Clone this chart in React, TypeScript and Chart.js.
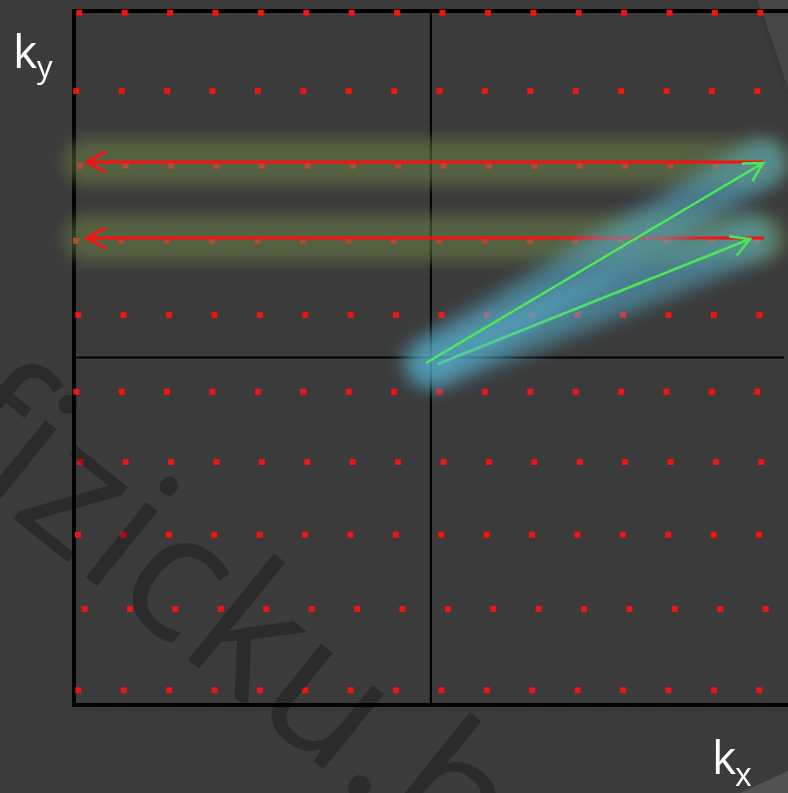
import React, { useEffect, useRef } from 'react';
import { Chart, registerables } from 'chart.js';

Chart.register(...registerables);

// Reciprocal lattice: each row has its own ky and the kx of its first point;
// points in a row are one lattice unit apart.
const rowKy = [4.579, 3.539, 2.547, 1.551, 0.564, -0.454, -1.388, -2.353, -3.34, -4.42];
const rowKxStart = [-7.745, -7.811, -7.723, -7.817, -7.767, -7.811, -7.723, -7.773, -7.627, -7.767];
const columnIndex = [0, 1, 2, 3, 4, 5, 6, 7, 8, 9, 10, 11, 12, 13, 14, 15];

// Arrows: [tail, tip]
const redArrow1 = [{ x: 7.335, y: 2.596 }, { x: -7.576, y: 2.596 }];
const redArrow2 = [{ x: 7.335, y: 1.587 }, { x: -7.576, y: 1.587 }];
const greenArrow1 = [{ x: -0.109, y: -0.073 }, { x: 7.313, y: 2.583 }];
const greenArrow2 = [{ x: 0.153, y: -0.086 }, { x: 7.029, y: 1.574 }];

const xRange = { min: -7.861, max: 7.773 };
const yRange = { min: -4.615, max: 4.602 };

const latticePoints = rowKy.flatMap((ky, i) =>
  columnIndex.map((j) => ({ x: rowKxStart[i] + j, y: ky }))
);

const BG = '#3b3b3b';

const bgPlugin = {
  id: 'bgPlugin',
  beforeDraw(chart: any) {
    const { ctx, width, height } = chart;
    ctx.save();
    ctx.fillStyle = BG;
    ctx.fillRect(0, 0, width, height);
    // faint lighter shapes at the right edge
    ctx.save();
    ctx.filter = 'blur(3px)';
    ctx.beginPath();
    ctx.moveTo(752, -10);
    ctx.quadraticCurveTo(770, 40, 790, 100);
    ctx.lineTo(800, 100);
    ctx.lineTo(800, -10);
    ctx.closePath();
    ctx.fillStyle = 'rgba(0,0,0,0.12)';
    ctx.fill();
    ctx.restore();
    ctx.beginPath();
    ctx.moveTo(757, 0);
    ctx.quadraticCurveTo(773, 40, 788, 90);
    ctx.lineTo(788, 0);
    ctx.closePath();
    ctx.fillStyle = '#464646';
    ctx.fill();
    ctx.beginPath();
    ctx.moveTo(740, 793);
    ctx.lineTo(788, 771);
    ctx.lineTo(788, 793);
    ctx.closePath();
    ctx.fillStyle = '#525252';
    ctx.fill();
    ctx.restore();
  },
};

const framePlugin = {
  id: 'framePlugin',
  beforeDatasetsDraw(chart: any) {
    const { ctx, chartArea } = chart;
    const { left, right, top, bottom } = chartArea;
    const xs = chart.scales.x;
    const ys = chart.scales.y;
    const cx = xs.getPixelForValue(0);
    const cy = ys.getPixelForValue(0);
    ctx.save();
    ctx.strokeStyle = '#000';
    ctx.lineWidth = 2.2;
    ctx.beginPath();
    ctx.moveTo(cx, top);
    ctx.lineTo(cx, bottom);
    ctx.moveTo(left, cy);
    ctx.lineTo(right, cy);
    ctx.stroke();
    ctx.lineWidth = 4;
    ctx.lineCap = 'square';
    ctx.beginPath();
    ctx.moveTo(right + 4, top);
    ctx.lineTo(left, top);
    ctx.lineTo(left, bottom);
    ctx.lineTo(right + 4, bottom);
    ctx.stroke();
    ctx.restore();
  },
};

const glowPlugin = {
  id: 'glowPlugin',
  beforeDatasetDraw(chart: any, args: any) {
    const ds = chart.data.datasets[args.index];
    if (ds.blur) {
      chart.ctx.save();
      chart.ctx.filter = `blur(${ds.blur}px)`;
    }
  },
  afterDatasetDraw(chart: any, args: any) {
    const ds = chart.data.datasets[args.index];
    const ctx = chart.ctx;
    if (ds.blur) {
      ctx.restore();
      return;
    }
    if (ds.arrowHead) {
      const pts = args.meta.data;
      const n = pts.length;
      if (n < 2) return;
      const p0 = pts[n - 2];
      const p1 = pts[n - 1];
      const a = Math.atan2(p0.y - p1.y, p0.x - p1.x);
      const L = 20;
      const h = (29 * Math.PI) / 180;
      ctx.save();
      ctx.strokeStyle = ds.borderColor;
      ctx.lineWidth = ds.borderWidth;
      ctx.lineCap = 'round';
      ctx.beginPath();
      ctx.moveTo(p1.x + L * Math.cos(a + h), p1.y + L * Math.sin(a + h));
      ctx.lineTo(p1.x, p1.y);
      ctx.lineTo(p1.x + L * Math.cos(a - h), p1.y + L * Math.sin(a - h));
      ctx.stroke();
      ctx.restore();
    }
  },
};

const overlayPlugin = {
  id: 'overlayPlugin',
  afterDraw(chart: any) {
    const ctx = chart.ctx;
    ctx.save();
    // watermark
    ctx.font = '400 180px "Open Sans"';
    ctx.fillStyle = 'rgba(0,0,0,0.27)';
    const th = (39 * Math.PI) / 180;
    const pre = ctx.measureText('fizic').width;
    const ax = 176;
    const ay = 650;
    ctx.translate(ax - pre * Math.cos(th), ay - pre * Math.sin(th));
    ctx.rotate(th);
    ctx.fillText('fizicku.hr', 0, 0);
    ctx.restore();

    ctx.save();
    ctx.fillStyle = '#ffffff';
    ctx.textBaseline = 'alphabetic';
    ctx.font = '400 46px "Open Sans"';
    ctx.fillText('k', 13, 68);
    ctx.font = '400 31px "Open Sans"';
    ctx.fillText('y', 37, 78);
    ctx.font = '400 46px "Open Sans"';
    ctx.fillText('k', 712, 774);
    ctx.font = '400 32px "Open Sans"';
    ctx.fillText('x', 735, 786);
    ctx.restore();
  },
};

const lineDs = (label: string, data: any[], color: string, width: number, order: number) => ({
  label,
  data,
  showLine: true,
  borderColor: color,
  backgroundColor: color,
  borderWidth: width,
  pointRadius: 0,
  clip: false,
  order,
  arrowHead: true,
});

const glowDs = (label: string, data: any[], color: string, width: number, blur: number, order: number) => ({
  label,
  data,
  showLine: true,
  borderColor: color,
  borderWidth: width,
  borderCapStyle: 'round',
  pointRadius: 0,
  clip: false,
  order,
  blur,
});

export default function App() {
  const ref = useRef<HTMLCanvasElement | null>(null);
  useEffect(() => {
    document.body.style.margin = '0';
    document.body.style.background = BG;
    const canvas = ref.current;
    if (!canvas) return;
    const olive = 'rgba(112,138,72,0.5)';
    const blue = 'rgba(88,182,215,0.52)';
    const chart = new Chart(canvas, {
      type: 'scatter',
      data: {
        datasets: [
          {
            label: 'lattice',
            data: latticePoints,
            pointStyle: 'rect',
            pointRadius: 4.2,
            pointBorderWidth: 0,
            backgroundColor: 'rgb(240,20,20)',
            borderColor: 'rgb(240,20,20)',
            clip: false,
            order: 20,
          } as any,
          glowDs('glow r1', redArrow1, olive, 46, 8, 19),
          glowDs('glow r2', redArrow2, olive, 46, 8, 18),
          glowDs('glow g2', greenArrow2, blue, 48, 9, 17),
          lineDs('red 2', redArrow2, 'rgb(250,16,16)', 3, 16),
          lineDs('green 2', greenArrow2, 'rgb(74,232,86)', 2.5, 15),
          glowDs('glow g1', greenArrow1, blue, 48, 9, 14),
          lineDs('red 1', redArrow1, 'rgb(250,16,16)', 3, 13),
          lineDs('green 1', greenArrow1, 'rgb(74,236,86)', 2.5, 12),
        ] as any,
      },
      options: {
        responsive: false,
        animation: false,
        events: [],
        layout: { padding: { left: 74, top: 11, right: 0, bottom: 88 } },
        scales: {
          x: { type: 'linear', display: false, min: xRange.min, max: xRange.max },
          y: { type: 'linear', display: false, min: yRange.min, max: yRange.max },
        },
        plugins: {
          legend: { display: false },
          tooltip: { enabled: false },
        },
      },
      plugins: [bgPlugin, framePlugin, glowPlugin, overlayPlugin],
    });
    return () => chart.destroy();
  }, []);
  return (
    <div style={{ position: 'fixed', left: 0, top: 0, width: 788, height: 793, background: BG }}>
      <canvas ref={ref} width={788} height={793} />
    </div>
  );
}
